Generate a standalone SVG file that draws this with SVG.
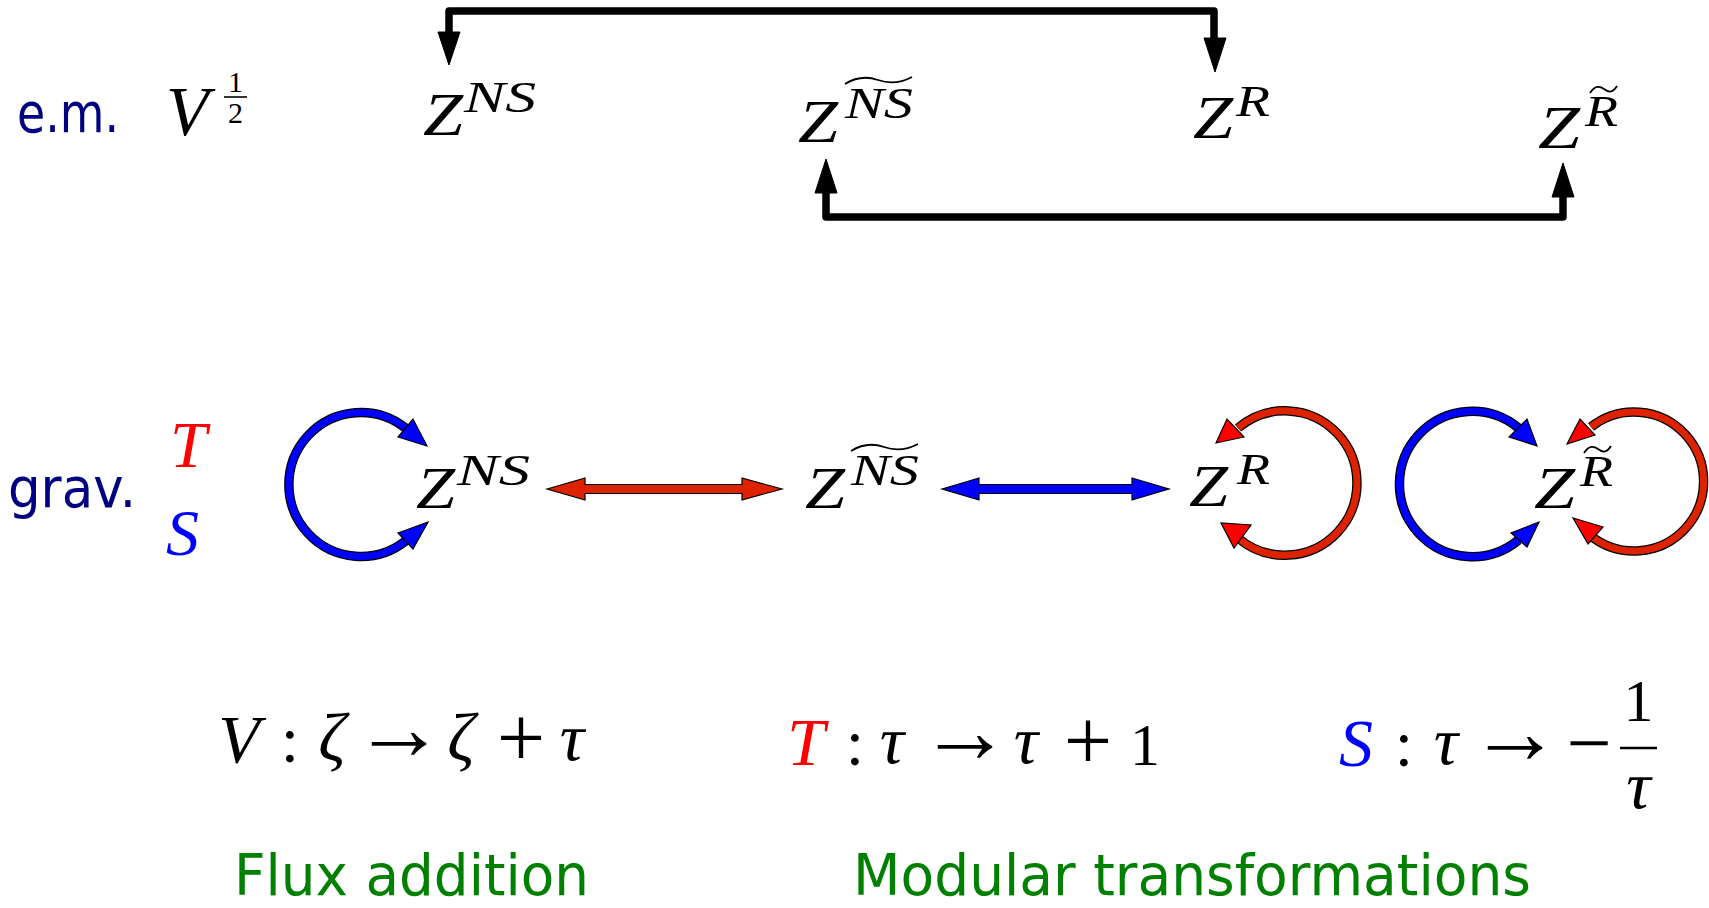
<svg xmlns="http://www.w3.org/2000/svg" width="1709" height="908" viewBox="0 0 1709 908">
<style>
.m{font-family:"Liberation Serif","DejaVu Serif",serif;font-style:italic;fill:#000}
.u{font-family:"Liberation Serif","DejaVu Serif",serif;font-style:normal;fill:#000}
.h{font-family:"DejaVu Sans","Noto Sans",sans-serif}
.navy{fill:#000080}
.green{fill:#008000}
.bk{fill:none;stroke:#000;stroke-width:7.5;stroke-linejoin:round}
.ah{fill:#000;stroke:#000;stroke-width:1}
.ob{fill:none;stroke:#000;stroke-width:9.5}
.cb{fill:none;stroke:#0000ff;stroke-width:7}
.cr{fill:none;stroke:#dd2200;stroke-width:7}
.hb{fill:#0000ff;stroke:#000;stroke-width:1.2}
.hr{fill:#ff0000;stroke:#000;stroke-width:1.2}
.dr{fill:#dd2200;stroke:#000;stroke-width:1.2}
.db{fill:#0000ff;stroke:#000;stroke-width:1.2}
.tl{fill:none;stroke:#000;stroke-width:1.8}
</style>

<g id="connectors">
  <path class="bk" d="M449,33 V11 H1214 V39"/>
  <polygon class="ah" points="438,32 460,32 449,65"/>
  <polygon class="ah" points="1204,38 1226,38 1215,72"/>
  <path class="bk" d="M826,192 V217 H1563 V196"/>
  <polygon class="ah" points="815,193 837,193 826,159"/>
  <polygon class="ah" points="1552,197 1574,197 1563,163"/>

  <path class="ob" d="M405.5,428 A72,72 0 1,0 405.5,541"/>
  <path class="cb" d="M405.5,428 A72,72 0 1,0 405.5,541"/>
  <polygon class="hb" points="427,446 398,437 413,419"/>
  <polygon class="hb" points="428,522 398,533 413,549"/>

  <path class="ob" d="M1238,428 A72.2,72.2 0 1,1 1238,538"/>
  <path class="cr" d="M1238,428 A72.2,72.2 0 1,1 1238,538"/>
  <polygon class="hr" points="1216,443 1227,419 1244,437"/>
  <polygon class="hr" points="1221,523 1234,548 1251,525"/>

  <path class="ob" d="M1518.5,428 A72.7,72.7 0 1,0 1518.5,540"/>
  <path class="cb" d="M1518.5,428 A72.7,72.7 0 1,0 1518.5,540"/>
  <polygon class="hb" points="1537,446 1509,437 1527,419"/>
  <polygon class="hb" points="1539,522 1511,533 1527,547"/>

  <path class="ob" d="M1591,427 A69.5,69.5 0 1,1 1591,536"/>
  <path class="cr" d="M1591,427 A69.5,69.5 0 1,1 1591,536"/>
  <polygon class="hr" points="1567,444 1580,419 1595,435"/>
  <polygon class="hr" points="1573,518 1588,544 1603,527"/>

  <polygon class="dr" points="547,489 585,478 585,484.5 742,484.5 742,478 782,489 742,500 742,493.5 585,493.5 585,500"/>
  <polygon class="db" points="942,489 979,478 979,484.5 1132,484.5 1132,478 1169,489 1132,500 1132,493.5 979,493.5 979,500"/>
</g>

<g id="label-em"><text class="h navy" x="17" y="132" font-size="56" textLength="102" lengthAdjust="spacingAndGlyphs">e.m.</text></g>
<g id="node-V-half">
  <text class="m" x="166" y="135" font-size="70">V</text>
  <text class="u" x="235.5" y="92" font-size="30" text-anchor="middle">1</text>
  <line x1="224" y1="97" x2="247" y2="97" stroke="#000" stroke-width="1.6"/>
  <text class="u" x="235.5" y="123" font-size="30" text-anchor="middle">2</text>
</g>

<g id="node-ZNS-em">
  <text class="m" x="423" y="135" font-size="62" textLength="40" lengthAdjust="spacingAndGlyphs">Z</text>
  <text class="m" x="464" y="112" font-size="44" textLength="72" lengthAdjust="spacingAndGlyphs">NS</text>
</g>
<g id="node-ZNSt-em">
  <text class="m" x="798" y="142" font-size="62" textLength="40" lengthAdjust="spacingAndGlyphs">Z</text>
  <text class="m" x="845" y="118" font-size="44" textLength="68" lengthAdjust="spacingAndGlyphs">NS</text>
  <path class="tl" d="M845,84 Q861,74 878,80 T912,77"/>
</g>
<g id="node-ZR-em">
  <text class="m" x="1193" y="138" font-size="62" textLength="40" lengthAdjust="spacingAndGlyphs">Z</text>
  <text class="m" x="1236" y="116" font-size="44" textLength="34" lengthAdjust="spacingAndGlyphs">R</text>
</g>
<g id="node-ZRt-em">
  <text class="m" x="1538" y="148" font-size="62" textLength="42" lengthAdjust="spacingAndGlyphs">Z</text>
  <text class="m" x="1585" y="126" font-size="44" textLength="33" lengthAdjust="spacingAndGlyphs">R</text>
  <path class="tl" d="M1590,93 C1595,85 1600,86 1604,89 S1612,94 1617,86"/>
</g>

<g id="label-grav"><text class="h navy" x="8" y="507" font-size="56" textLength="128" lengthAdjust="spacingAndGlyphs">grav.</text></g>
<g id="label-T"><text class="m" x="170" y="467" font-size="66" style="fill:#ff0000">T</text></g>
<g id="label-S"><text class="m" x="166" y="555" font-size="66" style="fill:#0000ff">S</text></g>

<g id="node-ZNS-grav">
  <text class="m" x="416" y="508" font-size="60" textLength="39" lengthAdjust="spacingAndGlyphs">Z</text>
  <text class="m" x="457" y="485" font-size="44" textLength="73" lengthAdjust="spacingAndGlyphs">NS</text>
</g>
<g id="node-ZNSt-grav">
  <text class="m" x="805" y="508" font-size="60" textLength="40" lengthAdjust="spacingAndGlyphs">Z</text>
  <text class="m" x="851" y="485" font-size="44" textLength="68" lengthAdjust="spacingAndGlyphs">NS</text>
  <path class="tl" d="M851,451 Q867,441 884,447 T918,444"/>
</g>
<g id="node-ZR-grav">
  <text class="m" x="1189" y="506" font-size="60" textLength="39" lengthAdjust="spacingAndGlyphs">Z</text>
  <text class="m" x="1237" y="484" font-size="44" textLength="33" lengthAdjust="spacingAndGlyphs">R</text>
</g>
<g id="node-ZRt-grav">
  <text class="m" x="1534" y="508" font-size="60" textLength="41" lengthAdjust="spacingAndGlyphs">Z</text>
  <text class="m" x="1580" y="486" font-size="44" textLength="33" lengthAdjust="spacingAndGlyphs">R</text>
  <path class="tl" d="M1584,453 C1589,445 1594,446 1598,449 S1606,454 1611,446"/>
</g>

<g id="formula-V">
  <text class="m" x="239" y="762" font-size="68" text-anchor="middle">V</text>
  <text class="u" x="290" y="762" font-size="66" text-anchor="middle">:</text>
  <text class="m" x="332" y="760" font-size="68" text-anchor="middle">ζ</text>
  <text class="u" x="399" y="759" font-size="92" text-anchor="middle">→</text>
  <text class="m" x="461" y="760" font-size="68" text-anchor="middle">ζ</text>
  <text class="u" x="521" y="767" font-size="86" text-anchor="middle">+</text>
  <text class="m" x="572" y="760" font-size="68" text-anchor="middle">τ</text>
</g>
<g id="formula-T">
  <text class="m" x="806" y="765" font-size="68" text-anchor="middle" style="fill:#ff0000">T</text>
  <text class="u" x="855" y="765" font-size="66" text-anchor="middle">:</text>
  <text class="m" x="892" y="763" font-size="68" text-anchor="middle">τ</text>
  <text class="u" x="965" y="762" font-size="92" text-anchor="middle">→</text>
  <text class="m" x="1026" y="763" font-size="68" text-anchor="middle">τ</text>
  <text class="u" x="1088" y="770" font-size="86" text-anchor="middle">+</text>
  <text class="u" x="1145" y="765" font-size="60" text-anchor="middle">1</text>
</g>
<g id="formula-S">
  <text class="m" x="1356" y="766" font-size="68" text-anchor="middle" style="fill:#0000ff">S</text>
  <text class="u" x="1404" y="766" font-size="66" text-anchor="middle">:</text>
  <text class="m" x="1446" y="764" font-size="68" text-anchor="middle">τ</text>
  <text class="u" x="1515" y="763" font-size="92" text-anchor="middle">→</text>
  <text class="u" x="1589" y="770" font-size="80" text-anchor="middle">−</text>
  <text class="u" x="1638.5" y="721" font-size="60" text-anchor="middle">1</text>
  <line x1="1620" y1="748" x2="1657" y2="748" stroke="#000" stroke-width="2.5"/>
  <text class="m" x="1638.5" y="808" font-size="68" text-anchor="middle">τ</text>
</g>

<g id="caption-flux"><text class="h green" x="234" y="895" font-size="57" textLength="355" lengthAdjust="spacingAndGlyphs">Flux addition</text></g>
<g id="caption-modular"><text class="h green" x="853" y="895" font-size="57" textLength="678" lengthAdjust="spacingAndGlyphs">Modular transformations</text></g>
</svg>
